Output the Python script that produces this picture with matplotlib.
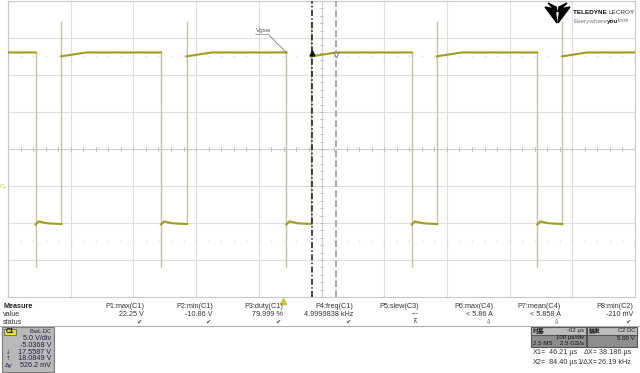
import numpy as np
import matplotlib
matplotlib.use('Agg')
import matplotlib.pyplot as plt
from matplotlib.patches import Rectangle, Polygon

plt.rcParams['font.family'] = ['Liberation Sans', 'Noto Sans CJK SC', 'DejaVu Sans']

# scope settings
VDIV = 5.0          # V/div
OFFSET = -5.0368    # V
TDIV = 100.0        # us/div
DELAY = -62.0       # us

# waveform C1 (Vgsw)
tiempos_bajada = [-394, -194, 6, 206, 406]   # us
tiempos_subida = [-353, -153, 46, 246, 446]  # us
v_alto = 18.0849
v_inicio_alto = 17.5587
v_bajo = -5.1
v_pico_bajo = -4.75
v_max = 22.25
v_min = -10.86
rampa_us = 40

# cursors
x1 = 46.21
x2 = 84.40

# measurement table
medidas = ['P1:max(C1)', 'P2:min(C1)', 'P3:duty(C1)', 'P4:freq(C1)',
           'P5:slew(C3)', 'P6:max(C4)', 'P7:mean(C4)', 'P8:min(C2)']
valores = ['22.25 V', '-10.86 V', '79.999 %', '4.9999838 kHz',
           '---', '< 5.86 A', '< 5.858 A', '-210 mV']
estados = ['\u2714', '\u2714', '\u2714', '\u2714', '\u22bc', '\u21e9', '\u21e9', '\u2714']

C_TRAZO = '#a29c1c'
C_FLANCO = '#c3c0a6'
C_GRILLA = '#dedede'

centro_t = -DELAY
centro_v = -OFFSET
t0, t1 = centro_t - 5 * TDIV, centro_t + 5 * TDIV
v0, v1 = centro_v - 4 * VDIV, centro_v + 4 * VDIV

fig = plt.figure(figsize=(6.4, 3.73), dpi=100)
ax = fig.add_axes([8 / 640, (373 - 297) / 373, 627 / 640, 296 / 373])
ax.set_xlim(t0, t1)
ax.set_ylim(v0, v1)
ax.set_xticks([])
ax.set_yticks([])
for s in ax.spines.values():
    s.set_color('#c8c8c8')
    s.set_linewidth(0.8)

# grid
for t in np.arange(t0, t1 + 1, TDIV):
    ax.axvline(t, color=C_GRILLA, lw=0.8, zorder=0)
for v in np.arange(v0, v1 + 0.1, VDIV):
    ax.axhline(v, color=C_GRILLA, lw=0.8, zorder=0)
ax.axhline(centro_v, color='#cfcfcf', lw=0.8, zorder=0)
ax.axvline(centro_t, color='#cfcfcf', lw=0.8, zorder=0)
for t in np.arange(t0, t1 + 1, TDIV / 5):
    ax.plot([t, t], [centro_v - 0.3, centro_v + 0.3], color='#bdbdbd', lw=0.6, zorder=0)
for v in np.arange(v0, v1 + 0.1, VDIV / 5):
    ax.plot([centro_t - 3, centro_t + 3], [v, v], color='#bdbdbd', lw=0.6, zorder=0)
for nivel in [centro_v + 2.5 * VDIV, centro_v - 2.5 * VDIV]:
    ax.plot(np.arange(t0, t1 + 1, TDIV / 5), [nivel] * 51, ls='none',
            marker='.', ms=0.9, color='#dadada', zorder=0)

# edges (fast transitions, drawn light)
for r in tiempos_subida:
    ax.plot([r, r], [v_bajo, v_max], color=C_FLANCO, lw=1.0, zorder=2)
for f in tiempos_bajada:
    ax.plot([f, f], [v_alto, v_min], color=C_FLANCO, lw=1.0, zorder=2)

# horizontal parts of the trace
ts = [t0]
vs = [v_alto]
for f, r in zip(tiempos_bajada, tiempos_subida):
    ts += [f, np.nan, f, f + 5, f + 18, r, np.nan, r, r + rampa_us]
    vs += [v_alto, np.nan, v_bajo - 0.05, v_pico_bajo, v_bajo + 0.1, v_bajo, np.nan,
           v_inicio_alto, v_alto]
ts.append(t1)
vs.append(v_alto)
ax.plot(ts, vs, color=C_TRAZO, lw=1.5, zorder=3)

# cursors
ax.axvline(x1, color='#111111', lw=1.1, ls=(0, (4, 1.5, 1, 1.5)), zorder=4)
ax.axvline(x2, color='#9a9a9a', lw=1.2, ls=(0, (4, 2)), zorder=4)
ax.plot([x1], [v_inicio_alto + 0.4], marker='^', ms=3.5, color='#111111', zorder=5)
ax.plot([x2], [v_alto - 0.4], marker='v', ms=3.5, mfc='white', mec='#777777',
        mew=0.7, zorder=5)

# Vgsw label
ax.annotate('Vgsw', xy=(tiempos_bajada[2], v_alto), xytext=(-42, 20.9),
            fontsize=4.5, color='#555555',
            arrowprops=dict(arrowstyle='-', color='#666666', lw=0.5,
                            shrinkA=0, shrinkB=0))
ax.plot([-44, -21], [20.55, 20.55], color='#666666', lw=0.4)

# trigger marker and channel marker
ax.plot([0], [v0 - 0.6], marker='^', ms=4, color='#c9c43a', clip_on=False, zorder=6)
ax.text(t0 - 2, 0, 'C\u2081', fontsize=4.5, color='#c9c23a', ha='right', va='center',
        clip_on=False)

# overlay in pixel coordinates for the panels
ov = fig.add_axes([0, 0, 1, 1], zorder=10)
ov.set_xlim(0, 640)
ov.set_ylim(373, 0)
ov.axis('off')
ov.patch.set_alpha(0)
renderer = fig.canvas.get_renderer()


def texto_seguido(x, y, partes, **kw):
    # writes pieces one after the other, each with its own style
    for s, estilo in partes:
        t = ov.text(x, y, s, va='center', **kw, **estilo)
        bb = t.get_window_extent(renderer)
        x += bb.width * 640 / fig.bbox.width


# logo
ov.add_patch(Polygon([[545, 7], [555, 9], [557, 23]], closed=True, color='black'))
ov.add_patch(Polygon([[570, 7], [560, 9], [558, 23]], closed=True, color='black'))
ov.add_patch(Polygon([[548, 3], [556, 7], [557, 12]], closed=True, color='black'))
ov.add_patch(Polygon([[567, 3], [559, 7], [558, 12]], closed=True, color='black'))
texto_seguido(573, 12.5, [('TELEDYNE ', dict(fontweight='bold', color='#111111')),
                          ('LECROY', dict(color='#222222'))], fontsize=4.6)
texto_seguido(573, 21, [('Everywhere', dict(color='#777777')),
                        ('you', dict(fontweight='bold', color='#222222')),
                        ('look', dict(color='#777777'))], fontsize=4.6)

# measurement table
fs = 5.2
ov.text(3, 306, 'Measure', fontsize=fs, fontweight='bold', color='#222222', va='center')
ov.text(3, 314, 'value', fontsize=fs, color='#333333', va='center')
ov.text(3, 322, 'status', fontsize=fs, color='#333333', va='center')
bordes = [144, 213, 283, 353, 419, 493, 561, 633]
for x, m, v, e in zip(bordes, medidas, valores, estados):
    ov.text(x, 306, m, fontsize=fs, color='#333333', ha='right', va='center')
    ov.text(x, 314, v, fontsize=fs, color='#333333', ha='right', va='center')
    ov.text(x - 2, 322, e, fontsize=4.5, color='#333333', ha='right', va='center',
            family='DejaVu Sans')
ov.plot([0, 640], [326, 326], color='#b0b0b0', lw=0.8)

# C1 descriptor box
ov.add_patch(Rectangle((2, 327), 52, 45, facecolor='#b9b9b9', edgecolor='#7a7a7a', lw=0.8))
ov.add_patch(Rectangle((4, 328.5), 12, 6.5, facecolor='#e3dc3c', edgecolor='#555555', lw=0.5))
ov.text(10, 331.8, 'C1', fontsize=4.8, fontweight='bold', color='#111111', ha='center', va='center')
ov.text(51, 331.5, 'BwL DC', fontsize=4.2, color='#222244', ha='right', va='center')
for y, s in zip([339, 345.5, 352, 358.5, 365.5],
                ['5.0 V/div', '-5.0368 V', '17.5587 V', '18.0849 V', '526.2 mV']):
    ov.text(51, y, s, fontsize=fs, color='#1f1f3f', ha='right', va='center')
ov.text(6, 352, '\u2193', fontsize=4, color='#333333', va='center', family='DejaVu Sans')
ov.text(6, 358.5, '\u2191', fontsize=4, color='#333333', va='center', family='DejaVu Sans')
ov.text(5, 365.5, '\u0394y', fontsize=4.5, color='#222244', va='center', family='DejaVu Sans')

# timebase box
fb = 4.4
cjk = ['Noto Sans CJK SC', 'DejaVu Sans']
ov.add_patch(Rectangle((531, 327), 55, 19.5, facecolor='#8e8e8e', edgecolor='#555555', lw=0.8))
ov.add_patch(Rectangle((531, 327), 55, 7.5, facecolor='#bdbdbd', edgecolor='#555555', lw=0.8))
ov.text(533, 330.8, '时基', fontsize=4.2, fontweight='bold', color='#111111', va='center',
        family=cjk)
ov.text(584, 330.8, '-62 \u00b5s', fontsize=fb, color='#222222', ha='right', va='center')
ov.text(584, 338, '100 \u00b5s/div', fontsize=fb, color='#111111', ha='right', va='center')
ov.text(533, 343.3, '2.5 MS', fontsize=fb, color='#111111', va='center')
ov.text(584, 343.3, '2.5 GS/s', fontsize=fb, color='#111111', ha='right', va='center')

# trigger box
ov.add_patch(Rectangle((587, 327), 50, 19.5, facecolor='#8e8e8e', edgecolor='#555555', lw=0.8))
ov.add_patch(Rectangle((587, 327), 50, 7.5, facecolor='#bdbdbd', edgecolor='#555555', lw=0.8))
ov.text(589, 330.8, '触发', fontsize=4.2, fontweight='bold', color='#111111', va='center',
        family=cjk)
ov.text(635, 330.8, 'C2 DC', fontsize=4.2, color='#222222', ha='right', va='center')
ov.text(635, 338, '5.00 V', fontsize=fb, color='#111111', ha='right', va='center')

# cursor readouts
ov.text(533, 353, 'X1=', fontsize=fs, color='#333333', va='center')
ov.text(577, 353, '%.2f \u00b5s' % x1, fontsize=fs, color='#333333', ha='right', va='center')
ov.text(598, 353, '\u0394X=', fontsize=fs, color='#333333', ha='right', va='center')
ov.text(631, 353, '38.186 \u00b5s', fontsize=fs, color='#333333', ha='right', va='center')
ov.text(533, 362, 'X2=', fontsize=fs, color='#333333', va='center')
ov.text(577, 362, '%.2f \u00b5s' % x2, fontsize=fs, color='#333333', ha='right', va='center')
ov.text(598, 362, '1/\u0394X=', fontsize=fs, color='#333333', ha='right', va='center')
ov.text(631, 362, '26.19 kHz', fontsize=fs, color='#333333', ha='right', va='center')

fig.savefig('out.png', dpi=100, facecolor='white')
